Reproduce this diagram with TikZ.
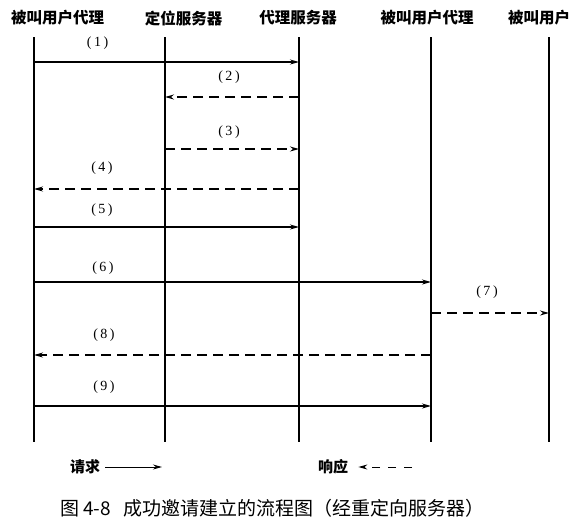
\documentclass[tikz,border=0pt]{standalone}
\usepackage{fontspec}
\newfontfamily\cjk{Noto Sans CJK SC}
\newfontfamily\numfont{Liberation Serif}
\usetikzlibrary{arrows.meta}
\tikzset{
    x={1pt},
    y={-1pt},
    actor/.style={
        font={\cjk\bfseries\fontsize{15.5}{16}\selectfont},
        inner sep=0pt,
    },
    lifeline/.style={
        draw=black,
        line width={1.2pt},
    },
    request/.style={
        draw=black,
        line width={1.2pt},
        -{Stealth[length=9pt,width=5pt]},
    },
    response/.style={
        request,
        dash pattern=on 10pt off 6pt,
    },
    msg label/.style={
        font={\numfont\fontsize{14}{15}\selectfont},
        inner sep=0pt,
    },
    legend label/.style={
        font={\cjk\bfseries\fontsize{15}{16}\selectfont},
        anchor=west,
        inner sep=0pt,
    },
}
\newcommand{\msgno}[1]{(\hspace{2.5pt}#1\hspace{2.5pt})}

\begin{document}
\begin{tikzpicture}
\useasboundingbox (0,0) rectangle (573,531);
% actors
\node[actor] (hd1) at (57.5,18) {被叫用户代理};
\node[actor] (hd2) at (183.5,18) {定位服务器};
\node[actor] (hd3) at (298,18) {代理服务器};
\node[actor] (hd4) at (427,18) {被叫用户代理};
\node[actor] (hd5) at (539,18) {被叫用户};
% lifelines
\foreach \n/\x in {ua/34, ls/165, ps/299, ub/431, uu/549} {
    \coordinate (\n) at (\x,37);
    \coordinate (\n end) at (\x,442);
    \draw[lifeline] (\n) -- (\n end);
}
% messages
\draw[request] (ua |- 0,62) -- node[msg label, pos=0.24, yshift=19pt] (lab1) {\msgno{1}} (ps |- 0,62);
\draw[response] (ps |- 0,97) -- (ls |- 0,97);
\node[msg label] (lab2) at (229,77) {\msgno{2}};
\draw[response] (ls |- 0,149) -- (ps |- 0,149);
\node[msg label] (lab3) at (229,132) {\msgno{3}};
\draw[response] (ps |- 0,189) -- (ua |- 0,189);
\node[msg label] (lab4) at (102,168) {\msgno{4}};
\draw[request] (ua |- 0,227) -- (ps |- 0,227);
\node[msg label] (lab5) at (102,210) {\msgno{5}};
\draw[request] (ua |- 0,282) -- (ub |- 0,282);
\node[msg label] (lab6) at (103,268) {\msgno{6}};
\draw[response] (ub |- 0,313) -- (uu |- 0,313);
\node[msg label] (lab7) at (487,292) {\msgno{7}};
\draw[response] (ub |- 0,355) -- (ua |- 0,355);
\node[msg label] (lab8) at (104,335) {\msgno{8}};
\draw[request] (ua |- 0,406) -- (ub |- 0,406);
\node[msg label] (lab9) at (104,387) {\msgno{9}};
% legend
\node[legend label] (req) at (70,467) {请求};
\coordinate (req tip) at (162,467);
\draw[request, line width={1pt}] ([xshift=5pt]req.east) -- (req tip);
\node[legend label] (resp) at (318,467) {响应};
\coordinate (resp tail) at (412,467);
\draw[response, line width={1pt}, dash pattern=on 8pt off 8pt] (resp tail) -- ([xshift=10pt]resp.east);
% caption
\node[anchor=west, inner sep=0pt, font={\cjk\fontsize{19}{20}\selectfont}] (cap) at (60,508) {图 4-8\hspace{12pt}成功邀请建立的流程图（经重定向服务器）};
\end{tikzpicture}
\end{document}
